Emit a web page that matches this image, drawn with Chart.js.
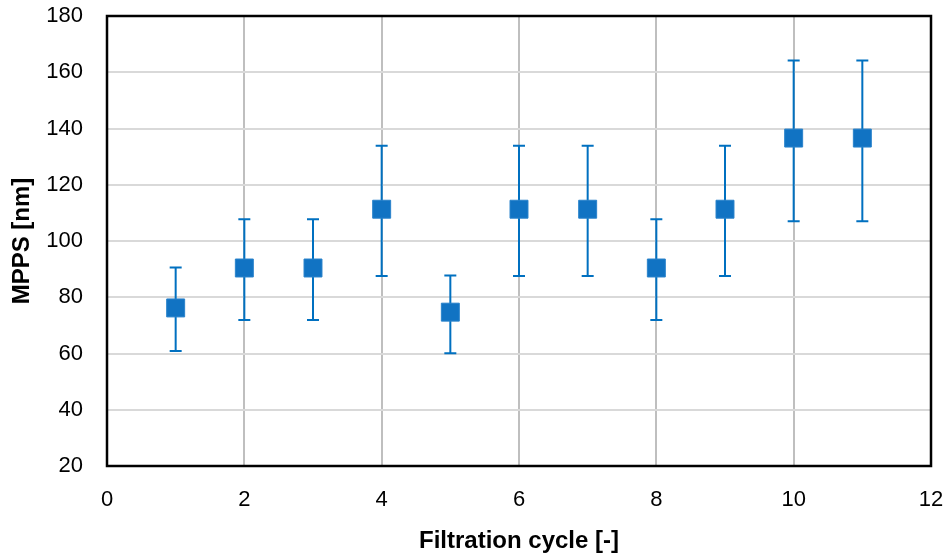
<!DOCTYPE html>
<html>
<head>
<meta charset="utf-8">
<script src="https://cdn.jsdelivr.net/npm/chart.js@4/dist/chart.umd.min.js"></script>
<style>
  html, body { margin: 0; padding: 0; background: #fff; }
  #wrap { width: 947px; height: 560px; }
</style>
</head>
<body>
<div id="wrap"><canvas id="mppsChart"></canvas></div>
<script>
// data
const cycles = [1, 2, 3, 4, 5, 6, 7, 8, 9, 10, 11];
const mpps = [76.2, 90.4, 90.4, 111.3, 74.7, 111.3, 111.3, 90.4, 111.3, 136.6, 136.6];
const errHigh = [90.6, 107.7, 107.7, 133.9, 87.7, 133.9, 133.9, 107.7, 133.9, 164.2, 164.2];
const errLow = [60.9, 71.9, 71.9, 87.6, 60.1, 87.6, 87.6, 71.9, 87.6, 107.0, 107.0];
const xTicks = [0, 2, 4, 6, 8, 10, 12];
const yTicks = [20, 40, 60, 80, 100, 120, 140, 160, 180];

const BLUE = '#0070c0';
const FONT = "'Liberation Sans', Arial, sans-serif";

// error bars drawn under the markers
const errorBars = {
    id: 'errorBars',
    beforeDatasetsDraw(chart) {
        const { ctx, scales: { x, y } } = chart;
        ctx.save();
        ctx.strokeStyle = BLUE;
        ctx.lineWidth = 2;
        cycles.forEach((c, i) => {
            const px = x.getPixelForValue(c);
            const top = y.getPixelForValue(errHigh[i]);
            const bot = y.getPixelForValue(errLow[i]);
            ctx.beginPath();
            ctx.moveTo(px, top); ctx.lineTo(px, bot);
            ctx.moveTo(px - 6, top); ctx.lineTo(px + 6, top);
            ctx.moveTo(px - 6, bot); ctx.lineTo(px + 6, bot);
            ctx.stroke();
        });
        ctx.restore();
    }
};

// black frame around the plot area
const frame = {
    id: 'frame',
    afterDatasetsDraw(chart) {
        const { ctx, chartArea: a } = chart;
        ctx.save();
        ctx.strokeStyle = '#000';
        ctx.lineWidth = 2.5;
        ctx.strokeRect(a.left, a.top, a.right - a.left, a.bottom - a.top);
        ctx.restore();
    }
};

// scales should not push the plot area in for their labels
function noPad(s) {
    s.paddingTop = 0; s.paddingBottom = 0;
    s.paddingLeft = 0; s.paddingRight = 0;
}

new Chart(document.getElementById('mppsChart'), {
    type: 'scatter',
    data: {
        datasets: [{
            data: cycles.map((c, i) => ({ x: c, y: mpps[i] })),
            pointStyle: 'rect',
            pointRadius: 12.7,
            backgroundColor: '#1173c3',
            borderColor: '#2a83cb',
            borderWidth: 1
        }]
    },
    options: {
        responsive: true,
        maintainAspectRatio: false,
        animation: false,
        layout: { padding: { top: 16, right: 16, left: 0, bottom: 0 } },
        plugins: { legend: { display: false }, tooltip: { enabled: false } },
        scales: {
            x: {
                type: 'linear',
                min: 0, max: 12,
                afterBuildTicks: s => { s.ticks = xTicks.map(v => ({ value: v })); },
                afterFit: s => { s.height = 94; noPad(s); },
                grid: { color: '#bfbfbf', lineWidth: 2, drawTicks: false },
                border: { display: false },
                ticks: { padding: 21, color: '#000', font: { family: FONT, size: 22 } },
                title: {
                    display: true, text: 'Filtration cycle [-]', color: '#000',
                    font: { family: FONT, size: 24, weight: 'bold' },
                    padding: { top: 0, bottom: 4 }
                }
            },
            y: {
                min: 20, max: 180,
                afterBuildTicks: s => { s.ticks = yTicks.map(v => ({ value: v })); },
                afterFit: s => { s.width = 107; noPad(s); },
                grid: { color: '#d9d9d9', lineWidth: 2, drawTicks: false },
                border: { display: false },
                ticks: { padding: 24, color: '#000', font: { family: FONT, size: 22 } },
                title: {
                    display: true, text: 'MPPS [nm]', color: '#000',
                    font: { family: FONT, size: 24, weight: 'bold' },
                    padding: { top: 8, bottom: 0 }
                }
            }
        }
    },
    plugins: [errorBars, frame]
});
</script>
</body>
</html>
